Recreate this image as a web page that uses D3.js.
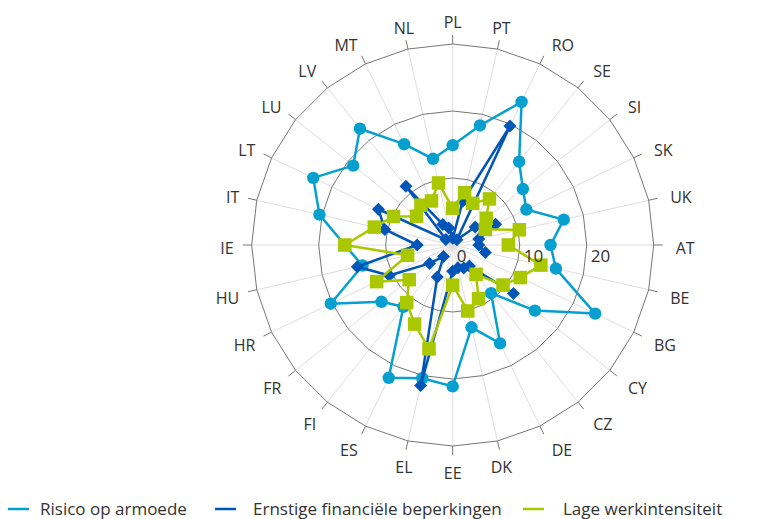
<!DOCTYPE html>
<html>
<head>
<meta charset="utf-8">
<script src="https://cdn.jsdelivr.net/npm/d3@7"></script>
<style>
  html, body { margin: 0; padding: 0; background: #fff; }
  svg { display: block; font-family: "Open Sans", "Noto Sans", sans-serif; }
</style>
</head>
<body>
<svg id="chart" width="759" height="519"></svg>
<script>
// ---- data ----
const categories = ["PL","PT","RO","SE","SI","SK","UK","AT","BE","BG","CY","CZ","DE","DK",
                    "EE","EL","ES","FI","FR","HR","HU","IE","IT","LT","LU","LV","MT","NL"];
const seriesNames = ["Risico op armoede", "Ernstige financiële beperkingen", "Lage werkintensiteit"];
const risicoArmoede = [14.9,18.3,23.7,15.9,13.4,12.2,17.0,14.6,15.8,23.6,15.7,9.2,16.3,12.6,
                       21.1,20.4,22.0,11.8,13.6,20.2,13.8,16.1,20.4,23.1,19.0,22.2,16.7,13.2];
const financieleBeperkingen = [1.0,6.7,19.7,1.0,4.3,7.1,4.0,3.9,5.0,null,11.6,4.0,3.8,3.5,
                       3.9,21.5,5.3,2.2,4.4,10.5,14.6,5.3,10.4,12.3,1.3,11.2,3.4,2.6];
const lageWerkintensiteit = [5.5,8.0,6.9,8.8,6.4,5.4,10.2,8.3,13.5,11.2,9.6,5.6,8.9,10.1,
                       6.0,15.9,13.1,11.0,8.3,12.6,6.9,16.1,12.0,9.8,6.9,7.6,7.3,9.5];
const radialTicks = [0, 10, 20];
const gridLevels = [10, 20, 30];
const maxValue = 30;

// ---- layout ----
const cx = 452.7, cy = 245, R = 201;
const colors = ["#05a0d0", "#0055b8", "#a9c800"];
const textColor = "#333333";

const svg = d3.select("#chart");
const g = svg.append("g").attr("transform", `translate(${cx},${cy})`);

const angle = d3.scaleBand().domain(categories).range([0, 2 * Math.PI]).paddingInner(0).paddingOuter(0).align(0);
const r = d3.scaleLinear().domain([0, maxValue]).range([0, R]);

// spokes
g.append("g").selectAll("line").data(categories).join("line")
  .attr("x1", 0).attr("y1", 0)
  .attr("x2", d => R * Math.sin(angle(d)))
  .attr("y2", d => -R * Math.cos(angle(d)))
  .attr("stroke", "#dedede").attr("stroke-width", 1);

// polygon grid
const gridLine = d3.lineRadial().angle(d => angle(d)).curve(d3.curveLinearClosed);
g.append("g").selectAll("path").data(gridLevels).join("path")
  .attr("d", lev => gridLine.radius(() => r(lev))(categories))
  .attr("fill", "none").attr("stroke", "#767676").attr("stroke-width", 1);

// outer ticks
g.append("g").selectAll("line").data(categories).join("line")
  .attr("x1", d => R * Math.sin(angle(d)))
  .attr("y1", d => -R * Math.cos(angle(d)))
  .attr("x2", d => (R + 9) * Math.sin(angle(d)))
  .attr("y2", d => -(R + 9) * Math.cos(angle(d)))
  .attr("stroke", "#767676").attr("stroke-width", 1);

// category labels
const LR = 219;
g.append("g").selectAll("text").data(categories).join("text")
  .attr("x", d => {
    const a = angle(d), s = Math.sin(a);
    let x = LR * s;
    if (s > 0.3) x += 4;
    return x;
  })
  .attr("y", d => {
    const a = angle(d);
    return -LR * Math.cos(a) + (2.75 - 6.25 * Math.cos(a));
  })
  .attr("dy", "0.36em")
  .attr("text-anchor", d => {
    const s = Math.sin(angle(d));
    return s > 0.3 ? "start" : (s < -0.3 ? "end" : "middle");
  })
  .attr("font-size", 16).attr("fill", textColor)
  .text(d => d);

// series
const allSeries = [risicoArmoede, financieleBeperkingen, lageWerkintensiteit];
const lineGen = d3.lineRadial()
  .defined(d => d.v != null)
  .angle(d => angle(d.c))
  .radius(d => r(d.v));

allSeries.forEach((vals, si) => {
  const pts = categories.map((c, i) => ({ c, v: vals[i] }));
  const closed = pts.concat([pts[0]]);
  const sg = g.append("g");
  sg.append("path").attr("d", lineGen(closed))
    .attr("fill", "none").attr("stroke", colors[si]).attr("stroke-width", 2.5)
    .attr("stroke-linejoin", "round");
  const mp = pts.filter(d => d.v != null);
  const px = d => r(d.v) * Math.sin(angle(d.c));
  const py = d => -r(d.v) * Math.cos(angle(d.c));
  if (si === 0) {
    sg.selectAll("circle").data(mp).join("circle")
      .attr("cx", px).attr("cy", py).attr("r", 6.2).attr("fill", colors[si]);
  } else if (si === 1) {
    const s = 6.5;
    sg.selectAll("path.m").data(mp).join("path").attr("class", "m")
      .attr("d", d => { const x = px(d), y = py(d);
        return `M${x},${y - s}L${x + s},${y}L${x},${y + s}L${x - s},${y}Z`; })
      .attr("fill", colors[si]);
  } else {
    const s = 13.5;
    sg.selectAll("rect").data(mp).join("rect")
      .attr("x", d => px(d) - s / 2).attr("y", d => py(d) - s / 2)
      .attr("width", s).attr("height", s).attr("fill", colors[si]);
  }
});

// radial tick labels (on top)
g.append("g").selectAll("text").data(radialTicks).join("text")
  .attr("x", d => r(d) + 4)
  .attr("y", 11)
  .attr("dy", "0.36em")
  .attr("font-size", 17).attr("fill", textColor)
  .text(d => d);

// legend
const legendX = [8, 215, 523];
const legendTextX = [40, 253, 563];
const lg = svg.append("g");
seriesNames.forEach((name, i) => {
  lg.append("line").attr("x1", legendX[i]).attr("x2", legendX[i] + 21)
    .attr("y1", 509).attr("y2", 509)
    .attr("stroke", colors[i]).attr("stroke-width", 2.5);
  lg.append("text").attr("x", legendTextX[i]).attr("y", 509).attr("dy", "0.36em")
    .attr("font-size", 17).attr("fill", textColor).text(name);
});
</script>
</body>
</html>
